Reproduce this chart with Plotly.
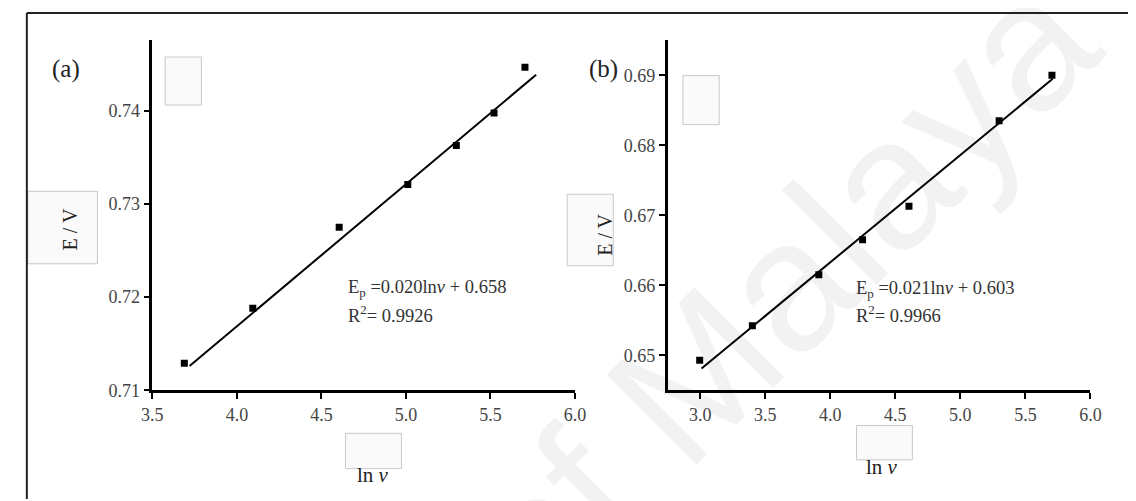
import plotly.graph_objects as go

# ---------------- data ----------------
# panel (a)
lnv_a = [3.689, 4.094, 4.605, 5.011, 5.298, 5.521, 5.704]
ep_a = [0.7129, 0.7188, 0.7275, 0.7321, 0.7363, 0.7398, 0.7447]
fit_a_x = [3.72, 5.77]
fit_a_y = [0.7126, 0.7439]
xticks_a = [3.5, 4.0, 4.5, 5.0, 5.5, 6.0]
yticks_a = [0.71, 0.72, 0.73, 0.74]

# panel (b)
lnv_b = [2.996, 3.401, 3.912, 4.248, 4.605, 5.298, 5.704]
ep_b = [0.6493, 0.6542, 0.6615, 0.6665, 0.6713, 0.6835, 0.6900]
fit_b_x = [3.01, 5.71]
fit_b_y = [0.6481, 0.6895]
xticks_b = [3.0, 3.5, 4.0, 4.5, 5.0, 5.5, 6.0]
yticks_b = [0.65, 0.66, 0.67, 0.68, 0.69]

eq_a = ["E<sub>p</sub> =0.020ln<i>v</i> + 0.658", "R<sup>2</sup>= 0.9926"]
eq_b = ["E<sub>p</sub> =0.021ln<i>v</i> + 0.603", "R<sup>2</sup>= 0.9966"]

# ---------------- layout helpers ----------------
W, H = 1136, 501
def px(x):
    return x / W
def py(y):
    return 1 - y / H

SERIF = "Liberation Serif"
TICKFONT = dict(family=SERIF, size=18, color="#444444")

fig = go.Figure()

fig.add_trace(go.Scatter(x=fit_a_x, y=fit_a_y, mode="lines", line=dict(color="black", width=2),
                         xaxis="x", yaxis="y", showlegend=False, hoverinfo="skip"))
fig.add_trace(go.Scatter(x=lnv_a, y=ep_a, mode="markers",
                         marker=dict(symbol="square", size=7, color="black"),
                         xaxis="x", yaxis="y", showlegend=False))
fig.add_trace(go.Scatter(x=fit_b_x, y=fit_b_y, mode="lines", line=dict(color="black", width=2),
                         xaxis="x2", yaxis="y2", showlegend=False, hoverinfo="skip"))
fig.add_trace(go.Scatter(x=lnv_b, y=ep_b, mode="markers",
                         marker=dict(symbol="square", size=7, color="black"),
                         xaxis="x2", yaxis="y2", showlegend=False))

axis_common = dict(showline=True, linecolor="black", linewidth=2.5, ticks="outside",
                   ticklen=6, tickwidth=2, tickcolor="black", showgrid=False,
                   zeroline=False, mirror=False)

ydom = [py(390), py(33)]
fig.update_layout(
    width=W, height=H,
    margin=dict(l=0, r=0, t=0, b=0),
    paper_bgcolor="white", plot_bgcolor="rgba(0,0,0,0)",
    font=dict(family=SERIF, size=18, color="#444444"),
    showlegend=False,
    xaxis=dict(domain=[px(136), px(567)], range=[3.5, 6.0], tickvals=xticks_a,
               tickformat=".1f", anchor="y", **axis_common),
    yaxis=dict(domain=ydom, range=[0.71, 0.7476], tickvals=yticks_a,
               tickformat=".2f", anchor="x", **axis_common),
    xaxis2=dict(domain=[px(661.5), px(1092.6)], range=[2.75, 6.0], tickvals=xticks_b,
                tickformat=".1f", anchor="y2", **axis_common),
    yaxis2=dict(domain=ydom, range=[0.645, 0.695], tickvals=yticks_b,
                tickformat=".2f", anchor="x2", **axis_common),
)
fig.update_xaxes(tickfont=TICKFONT)
fig.update_yaxes(tickfont=TICKFONT)

shapes = []
# outer frame
shapes.append(dict(type="line", xref="paper", yref="paper", x0=px(8), x1=px(8), y0=py(5), y1=py(501),
                   line=dict(color="#222222", width=2)))
shapes.append(dict(type="line", xref="paper", yref="paper", x0=px(8), x1=px(1135), y0=py(5), y1=py(5),
                   line=dict(color="#222222", width=2)))
shapes.append(dict(type="line", xref="paper", yref="paper", x0=px(1135), x1=px(1135), y0=py(5), y1=py(501),
                   line=dict(color="#888888", width=1.5)))
# faint placeholder boxes
boxes = [(149, 50, 186, 99), (9, 187, 80, 261), (333, 434, 390, 470),
         (677, 69, 714, 119), (559, 190, 606, 263), (854, 426, 911, 461)]
for x0, y0, x1, y1 in boxes:
    shapes.append(dict(type="rect", xref="paper", yref="paper", x0=px(x0), x1=px(x1), y0=py(y1), y1=py(y0),
                       line=dict(color="#c8c8c8", width=1), fillcolor="rgba(247,247,247,0.6)", layer="below"))
fig.update_layout(shapes=shapes)

ann = []
def text(x, y, s, size, xanchor="center", angle=0, color="#222222", family=SERIF):
    ann.append(dict(x=px(x), y=py(y), xref="paper", yref="paper", text=s, showarrow=False,
                    xanchor=xanchor, yanchor="middle", textangle=angle,
                    font=dict(family=family, size=size, color=color)))

# watermark
text(775, 290, "of Malaya", 185, angle=-45, color="rgba(0,0,0,0.05)", family="Liberation Sans")

text(48, 62, "(a)", 25)
text(596, 62, "(b)", 25)
text(53, 226, "E / V", 20, angle=-90)
text(598, 231, "E / V", 20, angle=-90)
text(361, 477, "ln <i>v</i>", 21)
text(880, 468, "ln <i>v</i>", 21)
text(333, 286, eq_a[0], 18.5, xanchor="left", color="#333333")
text(333, 312, eq_a[1], 18.5, xanchor="left", color="#333333")
text(851, 287, eq_b[0], 18.5, xanchor="left", color="#333333")
text(851, 312, eq_b[1], 18.5, xanchor="left", color="#333333")
fig.update_layout(annotations=ann)

fig.write_html("out.html")
